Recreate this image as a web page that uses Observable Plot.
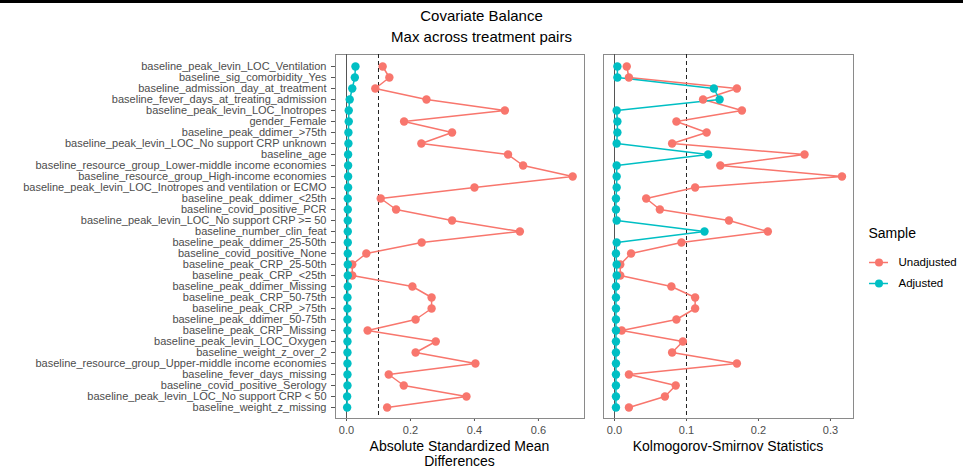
<!DOCTYPE html>
<html>
<head>
<meta charset="utf-8">
<script src="https://cdn.jsdelivr.net/npm/d3@7"></script>
<script src="https://cdn.jsdelivr.net/npm/@observablehq/plot@0.6"></script>
<style>
  body { margin: 0; background: #fff; font-family: "Liberation Sans", Arial, sans-serif; }
  #page { position: relative; width: 963px; height: 473px; overflow: hidden; }
  #page > * { position: absolute; }
  .topbar { left: 0; top: 0; width: 963px; height: 3px; background: #000; }
  .title { left: 0; width: 963px; text-align: center; font-size: 15px; color: #000; line-height: 18px; }
  .axis-title { font-size: 14px; color: #000; text-align: center; line-height: 15px; }
</style>
</head>
<body>
<div id="page">
  <div class="topbar"></div>
  <div class="title" style="top:7px">Covariate Balance</div>
  <div class="title" style="top:28px">Max across treatment pairs</div>
  <div id="p1" style="left:0;top:0"></div>
  <div id="p2" style="left:590px;top:0"></div>
  <div id="legend" style="left:858px;top:210px"></div>
  <div class="axis-title" style="left:335px;top:439px;width:249px">Absolute Standardized Mean<br>Differences</div>
  <div class="axis-title" style="left:603px;top:439px;width:250px">Kolmogorov-Smirnov Statistics</div>
</div>
<script>
// Covariates, top to bottom
const covariates = [
  "baseline_peak_levin_LOC_Ventilation",
  "baseline_sig_comorbidity_Yes",
  "baseline_admission_day_at_treatment",
  "baseline_fever_days_at_treating_admission",
  "baseline_peak_levin_LOC_Inotropes",
  "gender_Female",
  "baseline_peak_ddimer_>75th",
  "baseline_peak_levin_LOC_No support CRP unknown",
  "baseline_age",
  "baseline_resource_group_Lower-middle income economies",
  "baseline_resource_group_High-income economies",
  "baseline_peak_levin_LOC_Inotropes and ventilation or ECMO",
  "baseline_peak_ddimer_<25th",
  "baseline_covid_positive_PCR",
  "baseline_peak_levin_LOC_No support CRP >= 50",
  "baseline_number_clin_feat",
  "baseline_peak_ddimer_25-50th",
  "baseline_covid_positive_None",
  "baseline_peak_CRP_25-50th",
  "baseline_peak_CRP_<25th",
  "baseline_peak_ddimer_Missing",
  "baseline_peak_CRP_50-75th",
  "baseline_peak_CRP_>75th",
  "baseline_peak_ddimer_50-75th",
  "baseline_peak_CRP_Missing",
  "baseline_peak_levin_LOC_Oxygen",
  "baseline_weight_z_over_2",
  "baseline_resource_group_Upper-middle income economies",
  "baseline_fever_days_missing",
  "baseline_covid_positive_Serology",
  "baseline_peak_levin_LOC_No support CRP < 50",
  "baseline_weight_z_missing"
];

// Absolute standardized mean differences
const smdUnadjusted = [
  0.113, 0.134, 0.090, 0.250, 0.495, 0.180, 0.330, 0.234,
  0.505, 0.552, 0.707, 0.400, 0.107, 0.155, 0.330, 0.542,
  0.235, 0.062, 0.018, 0.018, 0.206, 0.266, 0.266, 0.216,
  0.066, 0.279, 0.216, 0.403, 0.132, 0.179, 0.375, 0.127
];
const smdAdjusted = [
  0.028, 0.026, 0.018, 0.010, 0.007, 0.007, 0.006, 0.006,
  0.005, 0.005, 0.005, 0.005, 0.004, 0.004, 0.004, 0.004,
  0.004, 0.004, 0.004, 0.004, 0.004, 0.003, 0.003, 0.003,
  0.003, 0.003, 0.003, 0.003, 0.003, 0.003, 0.002, 0.002
];

// Kolmogorov-Smirnov statistics
const ksUnadjusted = [
  0.017, 0.020, 0.170, 0.123, 0.177, 0.086, 0.128, 0.080,
  0.264, 0.147, 0.316, 0.112, 0.044, 0.063, 0.159, 0.213,
  0.093, 0.023, 0.008, 0.008, 0.079, 0.112, 0.112, 0.086,
  0.010, 0.095, 0.080, 0.170, 0.020, 0.085, 0.070, 0.020
];
const ksAdjusted = [
  0.004, 0.004, 0.138, 0.146, 0.003, 0.004, 0.004, 0.003,
  0.130, 0.003, 0.003, 0.003, 0.002, 0.002, 0.003, 0.125,
  0.003, 0.002, 0.003, 0.003, 0.002, 0.002, 0.002, 0.002,
  0.002, 0.002, 0.002, 0.002, 0.002, 0.002, 0.002, 0.002
];

const samples = ["Unadjusted", "Adjusted"];
const sampleColors = ["#F8766D", "#00BFC4"];

const toRows = (unadj, adj) => [
  ...covariates.map((c, i) => ({covariate: c, sample: "Unadjusted", value: unadj[i]})),
  ...covariates.map((c, i) => ({covariate: c, sample: "Adjusted", value: adj[i]}))
];

const font = "'Liberation Sans', Arial, sans-serif";
const fmt = d3.format(".1f");

function panel({rows, width, marginLeft, marginRight, domain, ticks, showY}) {
  return Plot.plot({
    width, height: 473,
    marginLeft, marginRight, marginTop: 54, marginBottom: 55,
    style: {fontFamily: font, fontSize: "11px", color: "#4d4d4d", background: "transparent", overflow: "visible"},
    x: {domain, ticks, tickFormat: fmt},
    y: {type: "point", domain: covariates, padding: 0.6, axis: null},
    color: {domain: samples, range: sampleColors},
    marks: [
      showY ? Plot.axisY({tickSize: 4, tickPadding: 5, label: null, fontSize: 11, stroke: "#555"}) : null,
      Plot.axisX({tickSize: 3, tickPadding: 5, label: null, fontSize: 11, stroke: "#555"}),
      Plot.frame({stroke: "#8a8a8a"}),
      Plot.ruleX([0], {stroke: "#555", strokeWidth: 1}),
      Plot.ruleX([0.1], {stroke: "#222", strokeDasharray: "4,3"}),
      Plot.line(rows, {x: "value", y: "covariate", z: "sample", stroke: "sample", strokeWidth: 1.5}),
      Plot.dot(rows, {x: "value", y: "covariate", fill: "sample", r: 4.2})
    ]
  });
}

document.getElementById("p1").append(panel({
  rows: toRows(smdUnadjusted, smdAdjusted),
  width: 590, marginLeft: 335, marginRight: 6,
  domain: [-0.0344, 0.744], ticks: [0, 0.2, 0.4, 0.6], showY: true
}));

document.getElementById("p2").append(panel({
  rows: toRows(ksUnadjusted, ksAdjusted),
  width: 268, marginLeft: 13, marginRight: 5,
  domain: [-0.0153, 0.332], ticks: [0, 0.1, 0.2, 0.3], showY: false
}));

// Legend: line + dot key for each sample
document.getElementById("legend").append(Plot.plot({
  width: 105, height: 90,
  margin: 0,
  style: {fontFamily: font, fontSize: "11.5px", color: "#000", background: "transparent", overflow: "visible"},
  x: {domain: [0, 105], range: [0, 105], axis: null},
  y: {type: "point", domain: samples, range: [52, 73], padding: 0, axis: null},
  color: {domain: samples, range: sampleColors},
  marks: [
    Plot.text(["Sample"], {frameAnchor: "top-left", dx: 10, dy: 23, fontSize: 14, lineAnchor: "middle"}),
    Plot.ruleY(samples, {y: d => d, x1: 11, x2: 30, stroke: d => d, strokeWidth: 1.5}),
    Plot.dot(samples, {x: 20.5, y: d => d, fill: d => d, r: 4}),
    Plot.text(samples, {x: 40, y: d => d, text: d => d, textAnchor: "start"})
  ]
}));
</script>
</body>
</html>
